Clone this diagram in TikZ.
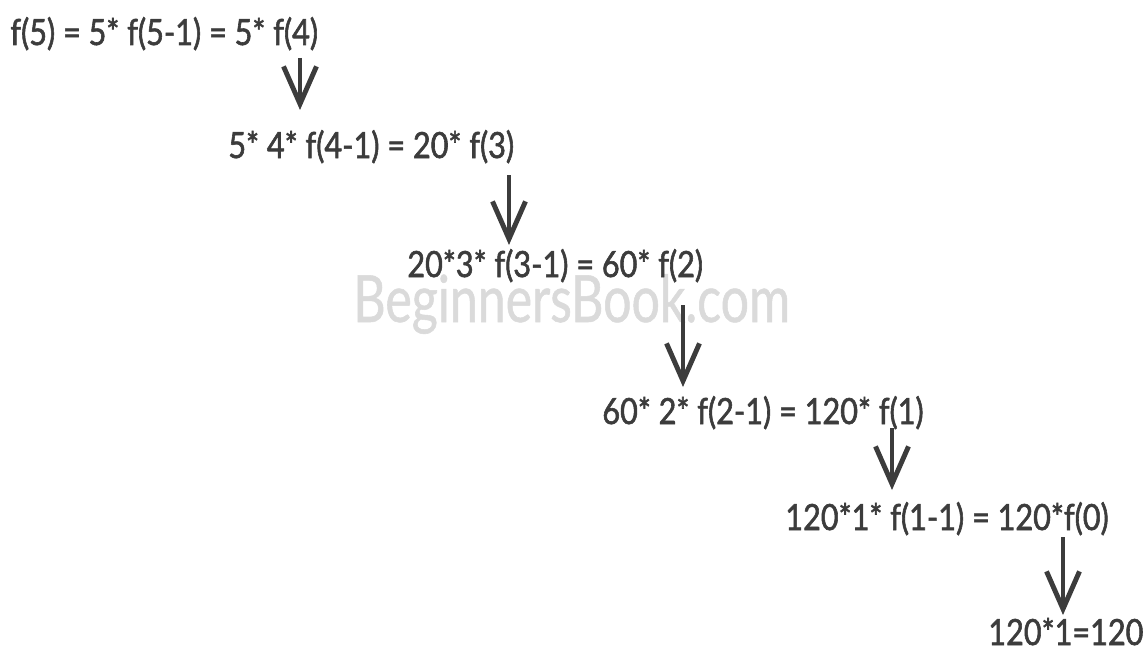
\documentclass[tikz,border=0pt]{standalone}
\usepackage{fontspec}
\setmainfont{Lato}
\newfontfamily\calcfont[FakeStretch=0.85, FakeBold=1.6]{Lato}
\newfontfamily\markfont[FakeStretch=0.77, FakeBold=0.8]{Lato}
\usetikzlibrary{arrows.meta}

\definecolor{ink}{HTML}{3C3C3C}
\definecolor{wmark}{HTML}{DADADA}

\begin{document}
\begin{tikzpicture}[x=0.02cm, y=-0.02cm,
  calc/.style={anchor=base west, inner sep=0pt, text=ink,
    font=\calcfont\fontsize{20.5}{24}\selectfont},
  down/.style={draw=ink, line width=2.8pt,
    -{Straight Barb[length=0.75cm, width=0.66cm]}}]
\useasboundingbox (0,0) rectangle (1143,652);
% watermark
\node[anchor=base west, inner sep=0pt, text=wmark,
  font=\markfont\fontsize{37}{40}\selectfont] (wm) at (353,322) {BeginnersBook.com};
% the steps
\node[calc] (s1) at (10,45) {f(5) = 5* f(5-1) = 5* f(4)};
\node[calc] (s2) at (228,158) {5* 4* f(4-1) = 20* f(3)};
\node[calc] (s3) at (407,277) {20*3* f(3-1) = 60* f(2)};
\node[calc] (s4) at (602,424) {60* 2* f(2-1) = 120* f(1)};
\node[calc] (s5) at (785,530) {120*1* f(1-1) = 120*f(0)};
\node[calc] (s6) at (988,645) {120*1=120};
% arrows
\coordinate (a1) at (300,58);  \coordinate (b1) at (300,110);
\coordinate (a2) at (509,175); \coordinate (b2) at (509,245);
\coordinate (a3) at (683,305); \coordinate (b3) at (683,387);
\coordinate (a4) at (892,428); \coordinate (b4) at (892,490);
\coordinate (a5) at (1063,537); \coordinate (b5) at (1063,615);
\draw[down] (a1) -- (b1);
\draw[down] (a2) -- (b2);
\draw[down] (a3) -- (b3);
\draw[down] (a4) -- (b4);
\draw[down] (a5) -- (b5);
\end{tikzpicture}
\end{document}
